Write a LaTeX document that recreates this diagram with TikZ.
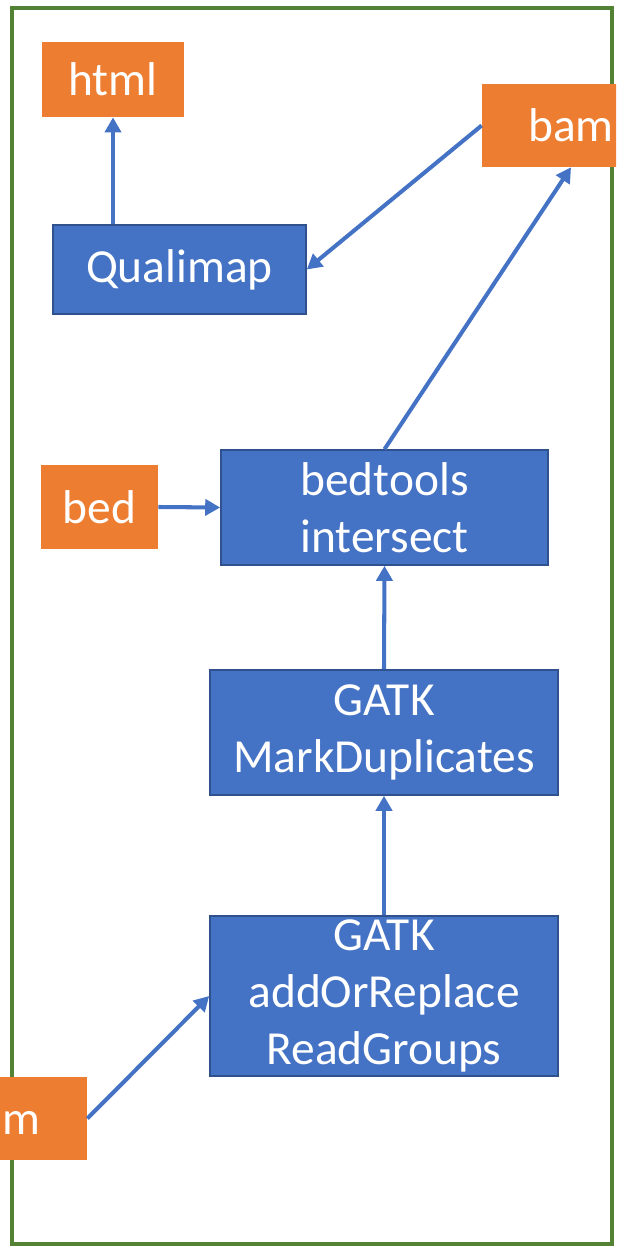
\documentclass[tikz,border=0pt]{standalone}
\usepackage{fontspec}
\setmainfont{Carlito}
\usetikzlibrary{arrows.meta}
\definecolor{fileorange}{HTML}{ED7D31}
\definecolor{toolblue}{HTML}{4472C4}
\definecolor{tooledge}{HTML}{2F528F}
\definecolor{framegreen}{HTML}{548235}

\begin{document}
\begin{tikzpicture}[x=0.02cm, y=-0.02cm,
    every node/.style={font=\fontsize{27}{32.5}\selectfont, text=white, inner sep=0pt, align=center},
    filebox/.style={fill=fileorange},
    toolbox/.style={fill=toolblue, draw=tooledge, line width=0.9pt},
    flow/.style={draw=toolblue, line width=2.3pt, -{Triangle[length=0.3cm, width=0.32cm]}}]
        \useasboundingbox (0,0) rectangle (616,1246);
        \clip (0,0) rectangle (616,1246);

        \draw[framegreen, line width=2.8pt] (12,8) rectangle (612,1244);

        \node[filebox, minimum width=142*0.02cm, minimum height=75*0.02cm] (html) at (113,79.5) {html};
        \node[filebox, minimum width=178*0.02cm, minimum height=83*0.02cm] (bamout) at (571,125.5) {bam};
        \node[toolbox, minimum width=253*0.02cm, minimum height=89*0.02cm] (qualimap) at (179.5,269.5) {Qualimap};
        \node[filebox, minimum width=117*0.02cm, minimum height=84*0.02cm] (bed) at (99.5,507) {bed};
        \node[toolbox, minimum width=327*0.02cm, minimum height=115*0.02cm] (intersect) at (384.5,507.5) {bedtools\\intersect};
        \node[toolbox, minimum width=348*0.02cm, minimum height=125*0.02cm] (markdup) at (384,732.5) {GATK\\MarkDuplicates};
        \node[toolbox, minimum width=348*0.02cm, minimum height=160*0.02cm] (readgroups) at (384,996) {GATK\\addOrReplace\\ReadGroups};
        \node[filebox, minimum width=178*0.02cm, minimum height=83*0.02cm] (bamin) at (-2,1118.5) {\phantom{ba}m};

        \draw[flow] (bamin.east) -- (readgroups.west);
        \draw[flow] (readgroups.north) -- (markdup.south);
        \draw[flow] (markdup.north) -- (intersect.south);
        \draw[flow] (bed.east) -- (intersect.west);
        \draw[flow] (intersect.north) -- (bamout.south);
        \draw[flow] (bamout.west) -- (qualimap.east);
        \draw[flow] (html.south |- qualimap.north) -- (html.south);
    \end{tikzpicture}
\end{document}
